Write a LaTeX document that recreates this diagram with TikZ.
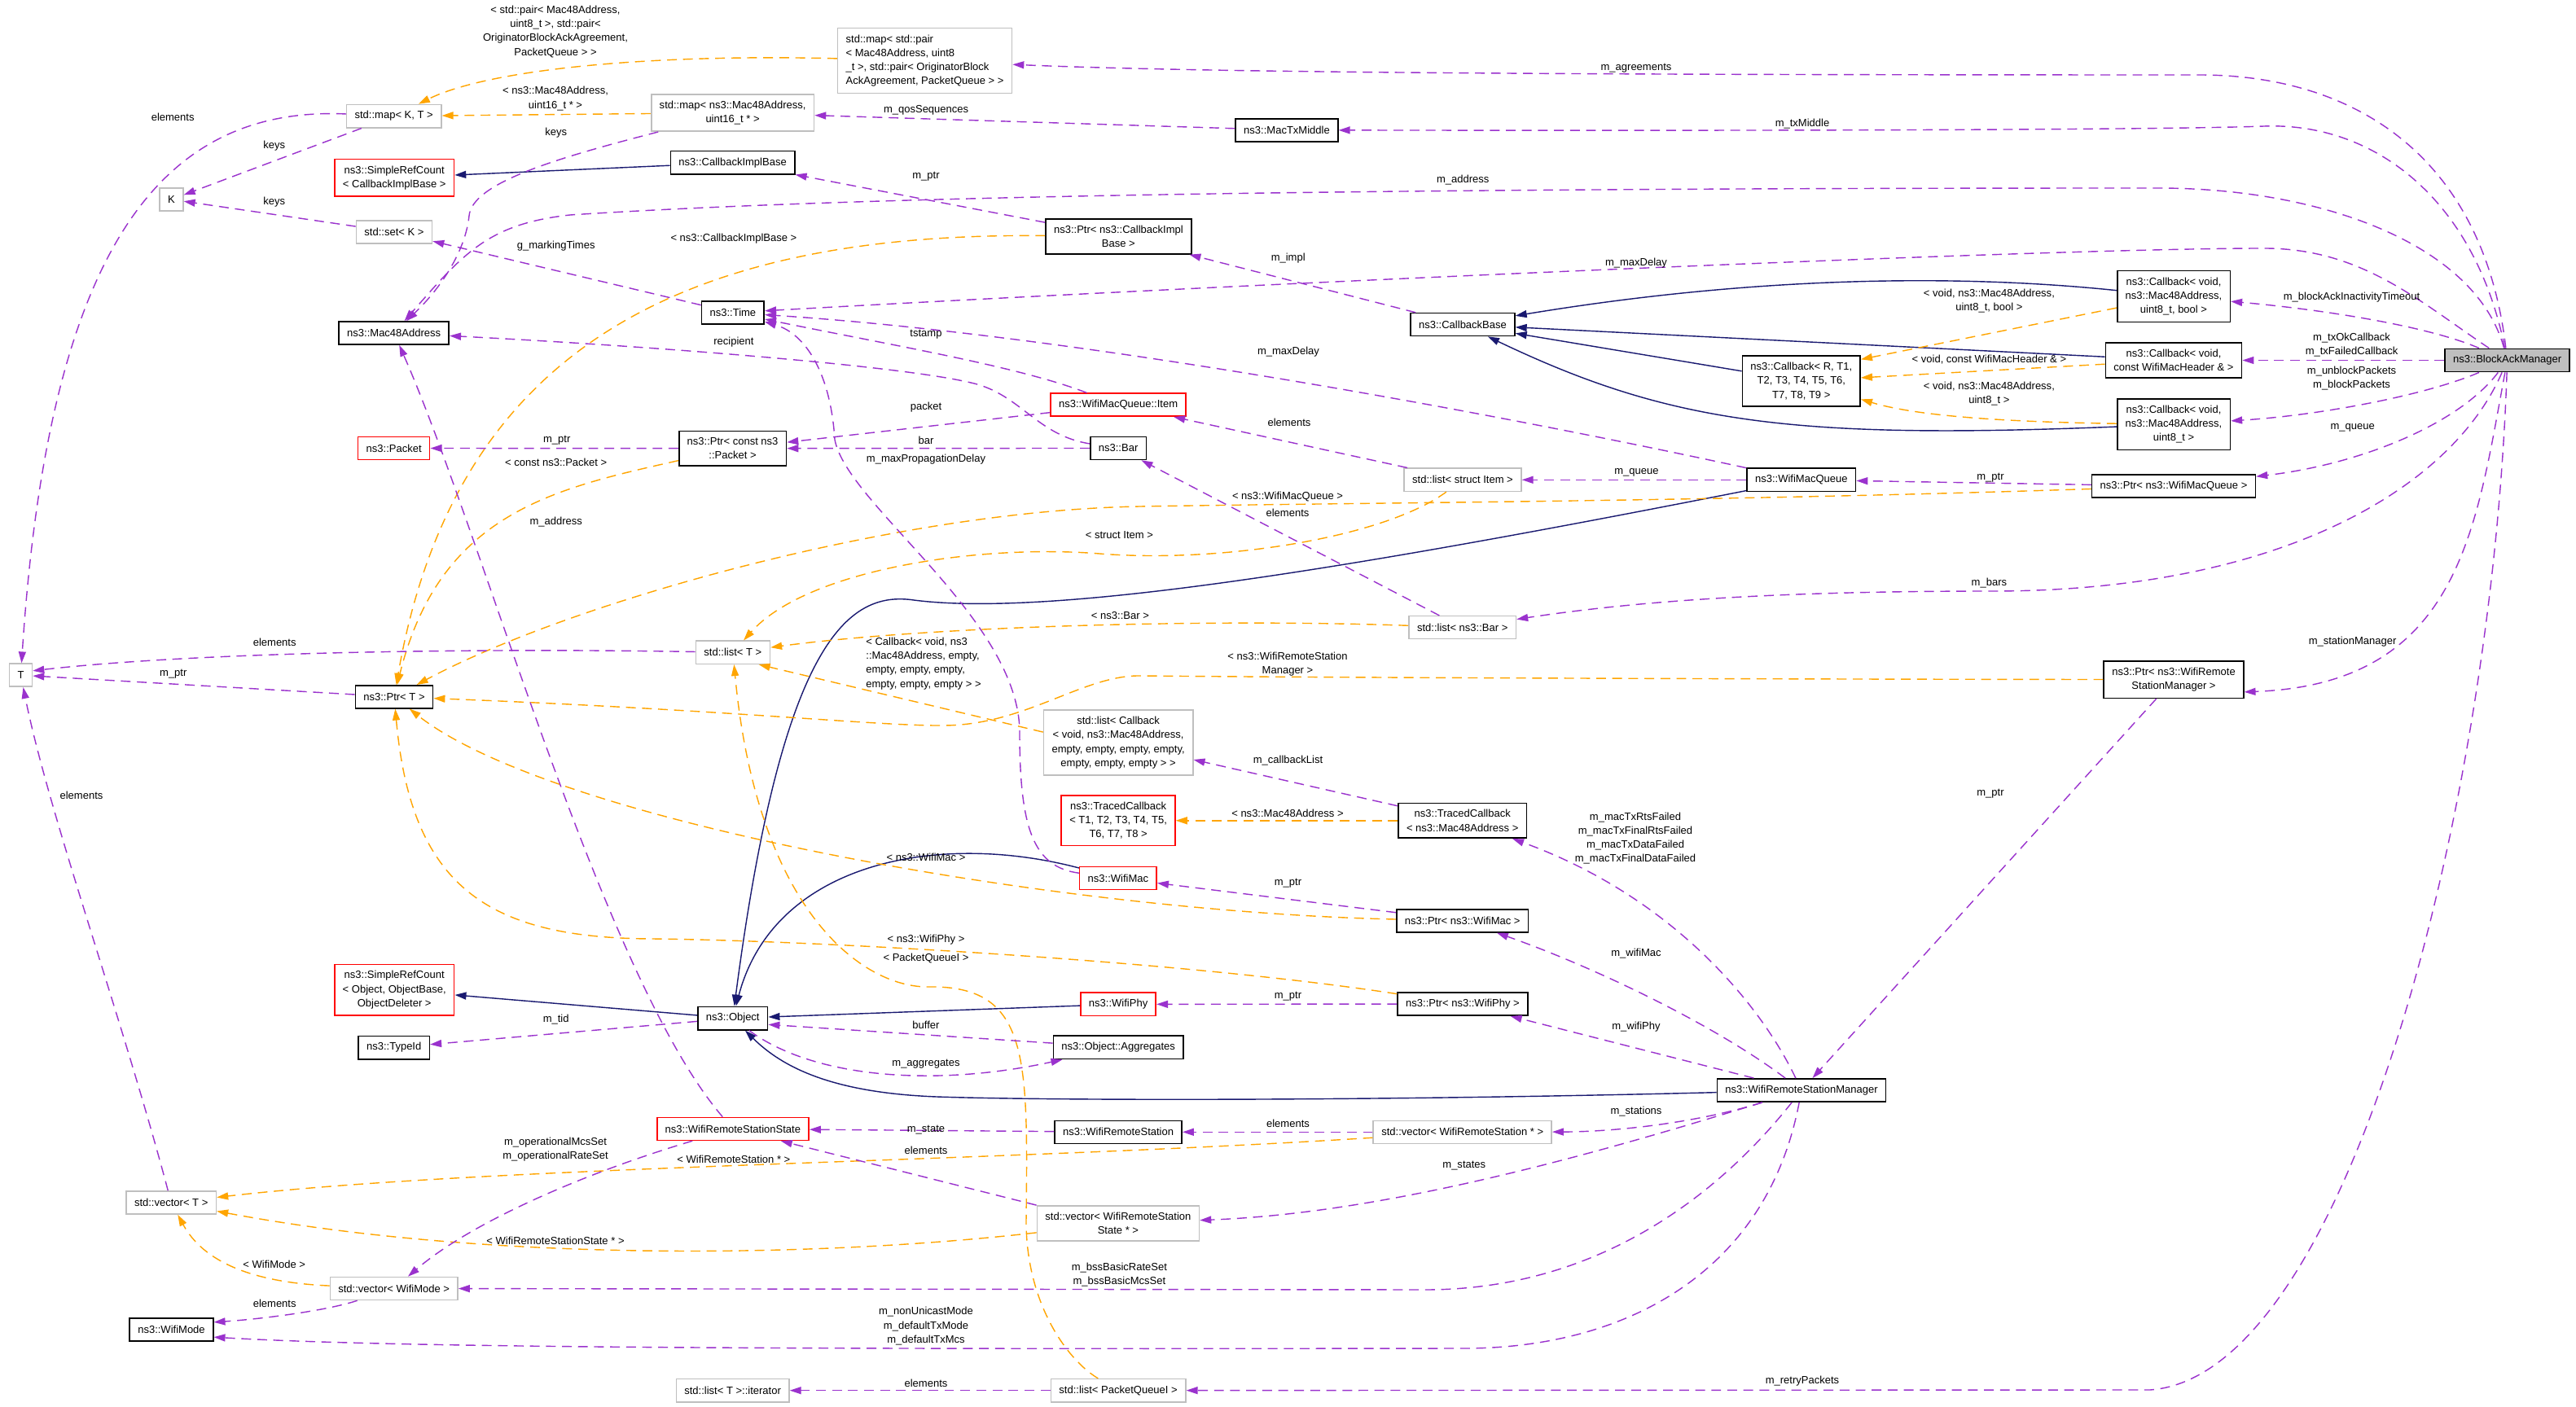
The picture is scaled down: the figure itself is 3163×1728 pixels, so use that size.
\documentclass[tikz,border=0pt]{standalone}
\usepackage{fontspec}
\setmainfont{Liberation Sans}
\usetikzlibrary{arrows.meta}

\definecolor{inhblue}{HTML}{191970}
\definecolor{usepurple}{HTML}{9A32CD}
\definecolor{tplorange}{HTML}{FFA500}
\definecolor{boxgray}{HTML}{BFBFBF}

\begin{document}
\begin{tikzpicture}[
    x=0.01cm, y=-0.01cm,
    every node/.style={font=\fontsize{3.7pt}{4.9pt}\selectfont},
    classbox/.style={rectangle, draw, line width=0.45pt, align=center, inner xsep=0.1cm, inner ysep=2.3pt, minimum height=0.28cm},
    documented/.style={classbox, draw=black},
    undocumented/.style={classbox, draw=boxgray},
    truncated/.style={classbox, draw=red},
    current/.style={classbox, draw=black, fill=boxgray},
    inherit/.style={draw=inhblue, line width=0.4pt, -{Triangle[length=0.14cm, width=0.09cm]}},
    usage/.style={draw=usepurple, line width=0.4pt, dash pattern=on 3.4pt off 2.2pt, -{Triangle[length=0.14cm, width=0.09cm]}},
    template/.style={draw=tplorange, line width=0.4pt, dash pattern=on 3.4pt off 2.2pt, -{Triangle[length=0.14cm, width=0.09cm]}},
    member/.style={align=center, inner sep=0pt}
]
\fill[white] (0,0) rectangle (3163,1728);

% Nodes
\node[undocumented] (tParam) at (25.5,829.2) {T};
\node[undocumented] (kParam) at (210.5,245) {K};
\node[undocumented] (vectorT) at (210.2,1477) {std::vector< T >};
\node[documented] (wifiMode) at (210.5,1633) {ns3::WifiMode};
\node[undocumented] (mapKT) at (483.7,142.6) {std::map< K, T >};
\node[truncated] (refCountImpl) at (484.2,218.3) {ns3::SimpleRefCount\\< CallbackImplBase >};
\node[undocumented] (setK) at (484,285) {std::set< K >};
\node[documented] (mac48) at (483.7,409) {ns3::Mac48Address};
\node[truncated] (packet) at (483.7,550.5) {ns3::Packet};
\node[documented] (ptrT) at (484,855.8) {ns3::Ptr< T >};
\node[truncated] (refCountObject) at (484.2,1215.7) {ns3::SimpleRefCount\\< Object, ObjectBase,\\ObjectDeleter >};
\node[documented] (typeId) at (483.7,1286.6) {ns3::TypeId};
\node[undocumented] (vectorMode) at (483.7,1582.5) {std::vector< WifiMode >};
\node[undocumented] (mapMacSeq) at (899.6,138.5) {std::map< ns3::Mac48Address,\\uint16\_t * >};
\node[documented] (implBase) at (899.6,199.8) {ns3::CallbackImplBase};
\node[documented] (time) at (899.9,384) {ns3::Time};
\node[documented] (ptrPacket) at (899.6,550.7) {ns3::Ptr< const ns3\\::Packet >};
\node[undocumented] (listT) at (899.9,801.3) {std::list< T >};
\node[documented] (object) at (899.7,1250.6) {ns3::Object};
\node[truncated] (stationState) at (899.9,1386.4) {ns3::WifiRemoteStationState};
\node[undocumented] (listIter) at (899.6,1707.7) {std::list< T >::iterator};
\node[undocumented, align=left] (mapAgreement) at (1135.6,74.7) {std::map< std::pair\\< Mac48Address, uint8\\\_t >, std::pair< OriginatorBlock\\AckAgreement, PacketQueue > >};
\node[documented] (ptrImpl) at (1373.4,290.4) {ns3::Ptr< ns3::CallbackImpl\\Base >};
\node[truncated] (queueItem) at (1373.1,497.2) {ns3::WifiMacQueue::Item};
\node[documented] (bar) at (1373.1,550.5) {ns3::Bar};
\node[undocumented] (listCallback) at (1373.1,912.1) {std::list< Callback\\< void, ns3::Mac48Address,\\empty, empty, empty, empty,\\empty, empty, empty > >};
\node[truncated] (tracedT) at (1373.1,1007.8) {ns3::TracedCallback\\< T1, T2, T3, T4, T5,\\T6, T7, T8 >};
\node[truncated] (wifiMac) at (1372.9,1078.6) {ns3::WifiMac};
\node[truncated] (wifiPhy) at (1373.1,1233.4) {ns3::WifiPhy};
\node[documented] (aggregates) at (1373.1,1286.4) {ns3::Object::Aggregates};
\node[documented] (remoteStation) at (1373.1,1390.3) {ns3::WifiRemoteStation};
\node[undocumented] (vectorState) at (1372.9,1502.4) {std::vector< WifiRemoteStation\\State * >};
\node[undocumented] (listQueue) at (1373.1,1707.7) {std::list< PacketQueueI >};
\node[documented] (macTxMiddle) at (1580,159.8) {ns3::MacTxMiddle};
\node[documented] (callbackBase) at (1796,398.6) {ns3::CallbackBase};
\node[undocumented] (listItem) at (1796,589.3) {std::list< struct Item >};
\node[undocumented] (listBar) at (1795.7,770.7) {std::list< ns3::Bar >};
\node[documented] (tracedMac) at (1795.7,1007.8) {ns3::TracedCallback\\< ns3::Mac48Address >};
\node[documented] (ptrMac) at (1795.7,1130.8) {ns3::Ptr< ns3::WifiMac >};
\node[documented] (ptrPhy) at (1796,1233) {ns3::Ptr< ns3::WifiPhy >};
\node[undocumented] (vectorStation) at (1795.7,1390.3) {std::vector< WifiRemoteStation * >};
\node[documented] (callbackRT) at (2211.8,468) {ns3::Callback< R, T1,\\T2, T3, T4, T5, T6,\\T7, T8, T9 >};
\node[documented] (macQueue) at (2211.8,589.3) {ns3::WifiMacQueue};
\node[documented] (stationManager) at (2212,1339) {ns3::WifiRemoteStationManager};
\node[documented] (cbInactivity) at (2669,364) {ns3::Callback< void,\\ns3::Mac48Address,\\uint8\_t, bool >};
\node[documented] (cbHeader) at (2669,442.5) {ns3::Callback< void,\\const WifiMacHeader \& >};
\node[documented] (cbBlock) at (2669,521.3) {ns3::Callback< void,\\ns3::Mac48Address,\\uint8\_t >};
\node[documented] (ptrQueue) at (2669,597.1) {ns3::Ptr< ns3::WifiMacQueue >};
\node[documented] (ptrManager) at (2669,834.6) {ns3::Ptr< ns3::WifiRemote\\StationManager >};
\node[current] (blockAck) at (3078.6,442.5) {ns3::BlockAckManager};

% Edges: inheritance
\draw[inherit] (implBase) -- (refCountImpl);
\draw[inherit] (cbInactivity) .. controls (2400,336) and (2150,340) .. (callbackBase);
\draw[inherit] (cbHeader) -- (callbackBase);
\draw[inherit] (callbackRT) -- (callbackBase);
\draw[inherit] (cbBlock) .. controls (2200,540) and (2050,520) .. (callbackBase);
\draw[inherit] (macQueue) .. controls (1700,690) and (1300,760) .. (1122,737) .. controls (1040,725) and (960,790) .. (object);
\draw[inherit] (wifiMac) .. controls (1150,1020) and (950,1060) .. (object);
\draw[inherit] (wifiPhy) -- (object);
\draw[inherit] (stationManager) .. controls (1700,1352) and (1300,1352) .. (1150,1347) .. controls (1020,1342) and (960,1310) .. (object);
\draw[inherit] (object) -- (refCountObject);

% Edges: template instances
\draw[template] (mapAgreement) .. controls (800,66) and (600,85) .. (mapKT)
    node[member] at (682,38.8) {< std::pair< Mac48Address,\\uint8\_t >, std::pair<\\OriginatorBlockAckAgreement,\\PacketQueue > >};
\draw[template] (mapMacSeq) -- (mapKT) node[member] at (682,121) {< ns3::Mac48Address,\\uint16\_t * >};
\draw[template] (ptrImpl) .. controls (850,285) and (560,420) .. (ptrT) node[member] at (900.9,293) {< ns3::CallbackImplBase >};
\draw[template] (ptrPacket) .. controls (680,600) and (540,630) .. (ptrT) node[member] at (682.7,567.9) {< const ns3::Packet >};
\draw[template] (ptrQueue) .. controls (2100,616) and (1700,617) .. (1400,622) .. controls (1100,627) and (700,740) .. (ptrT)
    node[member] at (1581,610) {< ns3::WifiMacQueue >};
\draw[template] (listItem) .. controls (1700,660) and (1500,692) .. (1350,680) .. controls (1200,668) and (990,700) .. (listT)
    node[member] at (1374.4,656.8) {< struct Item >};
\draw[template] (listBar) .. controls (1500,760) and (1150,768) .. (listT) node[member] at (1375.4,755.9) {< ns3::Bar >};
\draw[template] (listCallback.172) -- (listT.335)
    node[member, align=left] at (1134,815) {< Callback< void, ns3\\::Mac48Address, empty,\\empty, empty, empty,\\empty, empty, empty > >};
\draw[template] (ptrManager) .. controls (2100,834) and (1600,832) .. (1400,830) .. controls (1330,829) and (1260,890) .. (1160,891) .. controls (1080,892) and (900,872) .. (ptrT)
    node[member] at (1581,815.4) {< ns3::WifiRemoteStation\\Manager >};
\draw[template] (tracedMac) -- (tracedT) node[member] at (1581,999.3) {< ns3::Mac48Address >};
\draw[template] (ptrMac) .. controls (1300,1120) and (680,1010) .. (ptrT) node[member] at (1137,1052.9) {< ns3::WifiMac >};
\draw[template] (ptrPhy) .. controls (1450,1180) and (1000,1155) .. (800,1153) .. controls (600,1152) and (505,1090) .. (ptrT)
    node[member] at (1137,1154) {< ns3::WifiPhy >};
\draw[template] (listQueue) .. controls (1310,1670) and (1260,1600) .. (1260,1500) .. controls (1262,1300) and (1265,1210) .. (1140,1212) .. controls (1060,1213) and (930,1120) .. (listT)
    node[member] at (1137,1176.7) {< PacketQueueI >};
\draw[template] (vectorStation) .. controls (1200,1428) and (600,1432) .. (vectorT) node[member] at (900.9,1423.8) {< WifiRemoteStation * >};
\draw[template] (vectorState) .. controls (1000,1545) and (600,1550) .. (vectorT) node[member] at (682,1524.3) {< WifiRemoteStationState * >};
\draw[template] (vectorMode) .. controls (310,1575) and (250,1550) .. (vectorT) node[member] at (336.7,1552.5) {< WifiMode >};
\draw[template] (cbInactivity) -- (callbackRT.20) node[member] at (2442.4,369.4) {< void, ns3::Mac48Address,\\uint8\_t, bool >};
\draw[template] (cbHeader) -- (callbackRT) node[member] at (2442.4,441.4) {< void, const WifiMacHeader \& >};
\draw[template] (cbBlock) .. controls (2450,518) and (2350,510) .. (callbackRT.-17) node[member] at (2442.4,483.4) {< void, ns3::Mac48Address,\\uint8\_t >};

% Edges: members
\draw[usage] (mapKT) .. controls (200,130) and (60,300) .. (tParam) node[member] at (212.2,143.5) {elements};
\draw[usage] (mapKT) -- (kParam) node[member] at (336.7,178.7) {keys};
\draw[usage] (setK) -- (kParam) node[member] at (336.7,248.6) {keys};
\draw[usage] (mapMacSeq) .. controls (680,195) and (580,225) .. (576,265) .. controls (572,305) and (545,350) .. (mac48) node[member] at (682.7,162.8) {keys};
\draw[usage] (time) -- (setK) node[member] at (682.7,302.6) {g\_markingTimes};
\draw[usage] (blockAck) .. controls (3040,300) and (2850,231) .. (2650,231) .. controls (1800,231) and (1100,238) .. (700,264) .. controls (600,275) and (570,310) .. (mac48)
    node[member] at (1796.2,220.9) {m\_address};
\draw[usage] (bar) .. controls (1275,535) and (1255,488) .. (1200,472) .. controls (1120,450) and (800,425) .. (mac48) node[member] at (900.9,419.9) {recipient};
\draw[usage] (queueItem) .. controls (1250,450) and (1100,425) .. (time) node[member] at (1137,410.7) {tstamp};
\draw[usage] (queueItem) -- (ptrPacket) node[member] at (1137,500.2) {packet};
\draw[usage] (bar) -- (ptrPacket) node[member] at (1137,540.9) {bar};
\draw[usage] (ptrPacket) -- (packet) node[member] at (683.7,540.9) {m\_ptr};
\draw[usage] (ptrImpl) -- (implBase) node[member] at (1137,216.4) {m\_ptr};
\draw[usage] (blockAck) .. controls (3050,200) and (2900,92) .. (2700,92) .. controls (2000,92) and (1500,90) .. (mapAgreement)
    node[member] at (2009,84) {m\_agreements};
\draw[usage] (blockAck) .. controls (3040,250) and (2920,150) .. (2780,155) .. controls (2700,158) and (2400,161) .. (macTxMiddle)
    node[member] at (2213,151.7) {m\_txMiddle};
\draw[usage] (macTxMiddle) -- (mapMacSeq) node[member] at (1137.1,135) {m\_qosSequences};
\draw[usage] (callbackBase) -- (ptrImpl) node[member] at (1581.7,317) {m\_impl};
\draw[usage] (blockAck) .. controls (2970,370) and (2900,305) .. (2780,305) .. controls (2500,305) and (1500,350) .. (time)
    node[member] at (2009,323) {m\_maxDelay};
\draw[usage] (macQueue) .. controls (1800,500) and (1300,410) .. (time) node[member] at (1582,431.7) {m\_maxDelay};
\draw[usage] (macQueue) -- (listItem) node[member] at (2009.5,579.9) {m\_queue};
\draw[usage] (listItem) -- (queueItem) node[member] at (1583,518.5) {elements};
\draw[usage] (listBar) -- (bar) node[member] at (1581,630) {elements};
\draw[usage] (listT) .. controls (600,796) and (250,800) .. (tParam.20) node[member] at (337.2,788.9) {elements};
\draw[usage] (ptrT) -- (tParam) node[member] at (212.8,827.9) {m\_ptr};
\draw[usage] (vectorT) .. controls (150,1250) and (60,1000) .. (tParam) node[member] at (100,976.8) {elements};
\draw[usage] (blockAck) .. controls (2980,400) and (2850,380) .. (cbInactivity) node[member] at (2887.5,365.2) {m\_blockAckInactivityTimeout};
\draw[usage] (blockAck) -- (cbHeader) node[member] at (2887.5,423.8) {m\_txOkCallback\\m\_txFailedCallback};
\draw[usage] (blockAck) .. controls (2980,485) and (2850,510) .. (cbBlock) node[member] at (2887.5,464.3) {m\_unblockPackets\\m\_blockPackets};
\draw[usage] (blockAck) .. controls (3020,520) and (2900,570) .. (ptrQueue) node[member] at (2888.6,525) {m\_queue};
\draw[usage] (ptrQueue) -- (macQueue) node[member] at (2444,586.8) {m\_ptr};
\draw[usage] (blockAck) .. controls (3010,600) and (2800,725) .. (2450,726) .. controls (2250,726) and (2050,732) .. (listBar)
    node[member] at (2442.4,715.8) {m\_bars};
\draw[usage] (blockAck) .. controls (3040,650) and (3020,840) .. (ptrManager.-10) node[member] at (2888.6,787.7) {m\_stationManager};
\draw[usage] (ptrManager) -- (stationManager) node[member] at (2444,974.8) {m\_ptr};
\draw[usage] (blockAck) .. controls (3060,1000) and (2880,1690) .. (2640,1707) -- (listQueue) node[member] at (2213,1696.4) {m\_retryPackets};
\draw[usage] (stationManager) .. controls (2100,1255) and (1950,1185) .. (ptrMac) node[member] at (2009,1171.1) {m\_wifiMac};
\draw[usage] (stationManager) .. controls (2160,1230) and (2050,1100) .. (tracedMac)
    node[member] at (2008,1029.6) {m\_macTxRtsFailed\\m\_macTxFinalRtsFailed\\m\_macTxDataFailed\\m\_macTxFinalDataFailed};
\draw[usage] (stationManager) -- (ptrPhy) node[member] at (2009,1260.7) {m\_wifiPhy};
\draw[usage] (stationManager) .. controls (2080,1380) and (1980,1390) .. (vectorStation) node[member] at (2009,1365) {m\_stations};
\draw[usage] (stationManager) .. controls (1950,1420) and (1700,1490) .. (vectorState) node[member] at (1797.8,1431.7) {m\_states};
\draw[usage] (stationManager) .. controls (2100,1480) and (1950,1584) .. (1750,1584) -- (vectorMode)
    node[member] at (1374.4,1565.2) {m\_bssBasicRateSet\\m\_bssBasicMcsSet};
\draw[usage] (stationManager) .. controls (2170,1560) and (2000,1655) .. (1800,1656) .. controls (1000,1657) and (500,1656) .. (wifiMode.-10)
    node[member] at (1137,1628.7) {m\_nonUnicastMode\\m\_defaultTxMode\\m\_defaultTxMcs};
\draw[usage] (vectorMode) .. controls (400,1610) and (320,1620) .. (wifiMode.10) node[member] at (337.2,1600.4) {elements};
\draw[usage] (vectorState.north west) -- (stationState) node[member] at (1137,1412.6) {elements};
\draw[usage] (remoteStation) -- (stationState) node[member] at (1137,1387.5) {m\_state};
\draw[usage] (vectorStation) -- (remoteStation) node[member] at (1581.5,1380.3) {elements};
\draw[usage] (stationState) .. controls (740,1200) and (590,650) .. (mac48) node[member] at (682.7,640.7) {m\_address};
\draw[usage] (stationState) .. controls (720,1440) and (580,1500) .. (vectorMode) node[member] at (682,1412) {m\_operationalMcsSet\\m\_operationalRateSet};
\draw[usage] (object) -- (typeId) node[member] at (682.7,1252.5) {m\_tid};
\draw[usage] (aggregates) -- (object.-10) node[member] at (1137,1259.2) {buffer};
\draw[usage] (object) .. controls (1000,1325) and (1150,1335) .. (aggregates) node[member] at (1137,1306.9) {m\_aggregates};
\draw[usage] (wifiMac) .. controls (1270,1065) and (1252,1020) .. (1252,900) .. controls (1252,760) and (1040,620) .. (1025,540) .. controls (1020,460) and (990,410) .. (time)
    node[member] at (1137,564.2) {m\_maxPropagationDelay};
\draw[usage] (ptrMac) -- (wifiMac) node[member] at (1581.5,1085) {m\_ptr};
\draw[usage] (ptrPhy) -- (wifiPhy) node[member] at (1581.5,1224) {m\_ptr};
\draw[usage] (tracedMac) -- (listCallback) node[member] at (1581.5,934.3) {m\_callbackList};
\draw[usage] (listQueue) -- (listIter) node[member] at (1137,1698.7) {elements};

\end{tikzpicture}
\end{document}
